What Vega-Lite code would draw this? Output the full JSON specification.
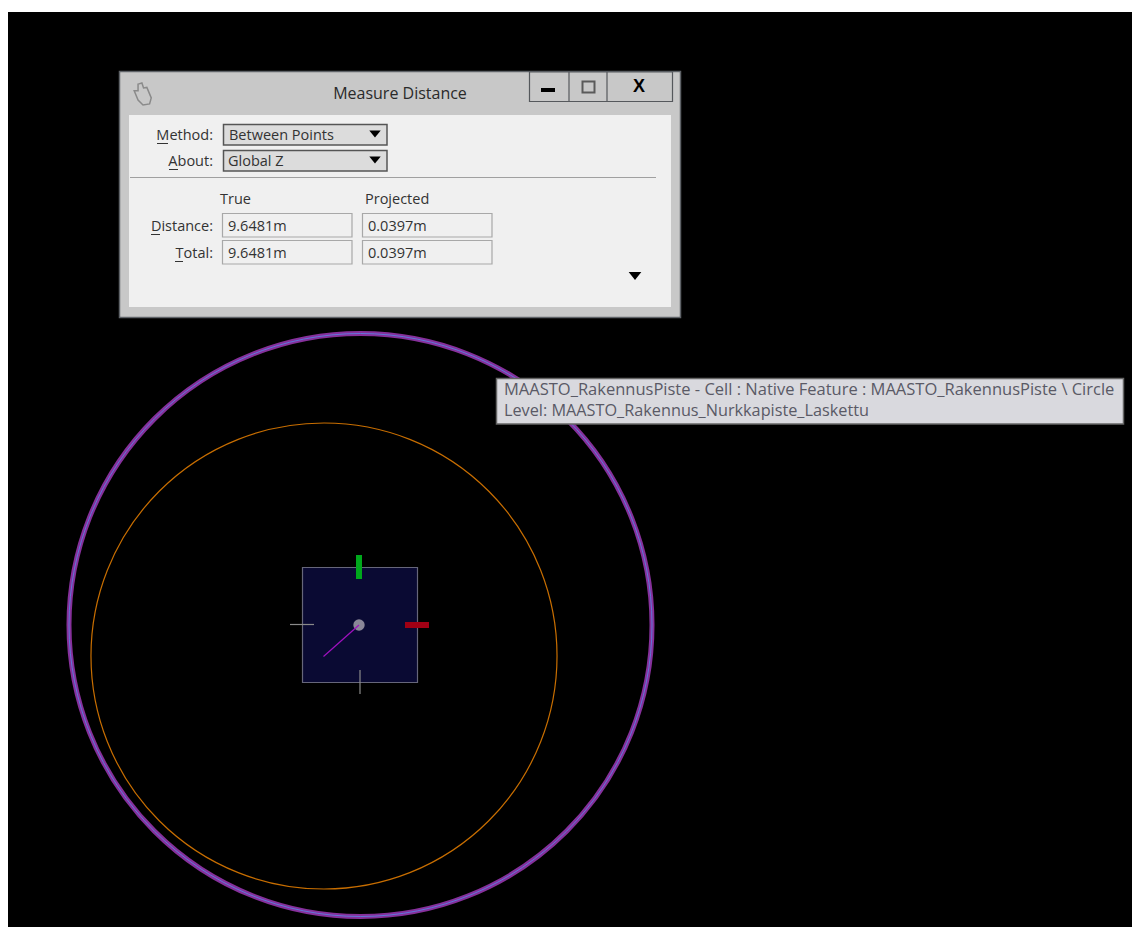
{
"$schema":"https://vega.github.io/schema/vega-lite/v6.json",
"width":1132,"height":927,"autosize":{"type":"fit","contains":"padding"},"padding":0,"background":"#ffffff",
"config":{"view":{"stroke":null}},
"encoding":{
"x":{"field":"x","type":"quantitative","scale":{"domain":[0,1132],"range":[0,1132],"nice":false,"zero":false},"axis":null},
"y":{"field":"y","type":"quantitative","scale":{"domain":[0,927],"range":[0,927],"nice":false,"zero":false},"axis":null}
},
"layer":[
{"data":{"values":[{"item":"screen","x":8,"y":12,"xe":1132,"ye":927}]},"mark":{"type":"rect","fill":"#000000"},"encoding":{"x2":{"field":"xe"},"y2":{"field":"ye"}}},
{"data":{"values":[{"item":"outer circle","x":360.5,"y":625}]},"mark":{"type":"point","shape":"circle","size":339900,"filled":false,"stroke":"#86309b","strokeWidth":5,"opacity":1}},
{"data":{"values":[{"item":"outer circle core","x":360.5,"y":625}]},"mark":{"type":"point","shape":"circle","size":339900,"filled":false,"stroke":"#5c7fe0","strokeWidth":0.9,"opacity":1}},
{"data":{"values":[{"item":"inner circle","x":324,"y":656}]},"mark":{"type":"point","shape":"circle","size":217200,"filled":false,"stroke":"#c86e00","strokeWidth":1.2,"opacity":1}},
{"data":{"values":[{"item":"cell box","x":302.5,"y":567.5,"xe":417.5,"ye":682.5}]},"mark":{"type":"rect","fill":"#0a0a33","stroke":"#66667a","strokeWidth":1.2},"encoding":{"x2":{"field":"xe"},"y2":{"field":"ye"}}},
{"data":{"values":[{"item":"y axis","x":356,"y":555,"xe":362,"ye":579}]},"mark":{"type":"rect","fill":"#00a81c"},"encoding":{"x2":{"field":"xe"},"y2":{"field":"ye"}}},
{"data":{"values":[{"item":"x axis","x":405,"y":622,"xe":429,"ye":628}]},"mark":{"type":"rect","fill":"#a00014"},"encoding":{"x2":{"field":"xe"},"y2":{"field":"ye"}}},
{"data":{"values":[{"item":"tick left","x":290,"y":624.5,"xe":314,"ye":624.5},{"item":"tick bottom","x":360,"y":670,"xe":360,"ye":694}]},"mark":{"type":"rule","stroke":"#8a8a8a","strokeWidth":1.2},"encoding":{"x2":{"field":"xe"},"y2":{"field":"ye"}}},
{"data":{"values":[{"item":"centre","x":359,"y":625}]},"mark":{"type":"point","shape":"circle","size":130,"filled":true,"fill":"#8a8798","stroke":null,"opacity":1}},
{"data":{"values":[{"item":"pointer","x":359,"y":625,"xe":323.5,"ye":656.5}]},"mark":{"type":"rule","stroke":"#a010c0","strokeWidth":1.2},"encoding":{"x2":{"field":"xe"},"y2":{"field":"ye"}}},

{"data":{"values":[{"item":"dialog","x":119.5,"y":71.5,"xe":680.5,"ye":317.5}]},"mark":{"type":"rect","fill":"#c8c8c8","stroke":"#5f6368","strokeWidth":1.5},"encoding":{"x2":{"field":"xe"},"y2":{"field":"ye"}}},
{"data":{"values":[{"item":"panel","x":129,"y":115,"xe":671,"ye":307}]},"mark":{"type":"rect","fill":"#f0f0f0"},"encoding":{"x2":{"field":"xe"},"y2":{"field":"ye"}}},
{"data":{"values":[{"item":"buttons","x":529.5,"y":72,"xe":672.5,"ye":101.5}]},"mark":{"type":"rect","fill":"#c8c8c8","stroke":"#55585c","strokeWidth":1.2},"encoding":{"x2":{"field":"xe"},"y2":{"field":"ye"}}},
{"data":{"values":[{"item":"sep1","x":569,"y":72,"xe":569,"ye":101},{"item":"sep2","x":607,"y":72,"xe":607,"ye":101}]},"mark":{"type":"rule","stroke":"#55585c","strokeWidth":1.2},"encoding":{"x2":{"field":"xe"},"y2":{"field":"ye"}}},
{"data":{"values":[{"item":"minimise","x":541,"y":88,"xe":555,"ye":92}]},"mark":{"type":"rect","fill":"#000000"},"encoding":{"x2":{"field":"xe"},"y2":{"field":"ye"}}},
{"data":{"values":[{"item":"maximise","x":582.5,"y":81.5,"xe":594.5,"ye":92.5}]},"mark":{"type":"rect","fill":"#c8c8c8","stroke":"#5a5a5a","strokeWidth":2},"encoding":{"x2":{"field":"xe"},"y2":{"field":"ye"}}},
{"data":{"values":[{"item":"hand","x":143,"y":94}]},"mark":{"type":"point","shape":"M-0.45,-0.9L-0.1,-1L0.05,-0.55L0.35,-0.6L0.75,0.35L0.6,0.9L0,1L-0.45,0.55L-0.8,-0.3L-0.45,-0.3Z","size":484,"filled":true,"fill":"#c8c8c8","stroke":"#8a8a8a","strokeWidth":1.5,"opacity":1}},
{"data":{"values":[{"item":"combo1","x":223.5,"y":124.5,"xe":387,"ye":145},{"item":"combo2","x":223.5,"y":150.5,"xe":387,"ye":171}]},"mark":{"type":"rect","fill":"#dcdcdc","stroke":"#555555","strokeWidth":1.5},"encoding":{"x2":{"field":"xe"},"y2":{"field":"ye"}}},
{"data":{"values":[{"item":"field1","x":222.5,"y":213.5,"xe":352,"ye":237},{"item":"field2","x":362.5,"y":213.5,"xe":492,"ye":237},{"item":"field3","x":222.5,"y":240.5,"xe":352,"ye":264},{"item":"field4","x":362.5,"y":240.5,"xe":492,"ye":264}]},"mark":{"type":"rect","fill":"#f0f0f0","stroke":"#a8a8a8","strokeWidth":1.2},"encoding":{"x2":{"field":"xe"},"y2":{"field":"ye"}}},
{"data":{"values":[{"item":"divider","x":130,"y":177.5,"xe":656,"ye":177.5}]},"mark":{"type":"rule","stroke":"#a0a0a0","strokeWidth":1.2},"encoding":{"x2":{"field":"xe"},"y2":{"field":"ye"}}},
{"data":{"values":[{"item":"u1","x":157,"y":143.5,"xe":168,"ye":143.5},{"item":"u2","x":169,"y":169.5,"xe":178,"ye":169.5},{"item":"u3","x":151,"y":234.5,"xe":160,"ye":234.5},{"item":"u4","x":175,"y":261.5,"xe":183,"ye":261.5}]},"mark":{"type":"rule","stroke":"#333333","strokeWidth":1},"encoding":{"x2":{"field":"xe"},"y2":{"field":"ye"}}},
{"data":{"values":[{"item":"combo arrow 1","x":375,"y":134},{"item":"combo arrow 2","x":375,"y":160}]},"mark":{"type":"point","shape":"M-1,-0.6L1,-0.6L0,0.6Z","size":130,"filled":true,"fill":"#000000","stroke":null,"opacity":1}},
{"data":{"values":[{"item":"expand arrow","x":635,"y":276}]},"mark":{"type":"point","shape":"M-1,-0.65L1,-0.65L0,0.65Z","size":160,"filled":true,"fill":"#000000","stroke":null,"opacity":1}},
{"data":{"values":[{"label":"Measure Distance","x":400,"y":93.5}]},"mark":{"type":"text","font":"Open Sans","fontSize":16,"fill":"#2a2a2a","align":"center","baseline":"middle"},"encoding":{"text":{"field":"label"}}},
{"data":{"values":[{"label":"X","x":639,"y":87}]},"mark":{"type":"text","font":"Liberation Sans","fontWeight":"bold","fontSize":18,"fill":"#000000","align":"center","baseline":"middle"},"encoding":{"text":{"field":"label"}}},
{"data":{"values":[{"label":"Method:","x":213,"y":135.7},{"label":"About:","x":213,"y":161.7},{"label":"Distance:","x":213,"y":226.7},{"label":"Total:","x":213,"y":253.7}]},"mark":{"type":"text","font":"Open Sans","fontSize":14.5,"fill":"#333333","align":"right","baseline":"middle"},"encoding":{"text":{"field":"label"}}},
{"data":{"values":[{"label":"Between Points","x":229,"y":135.7},{"label":"Global Z","x":228,"y":161.7},{"label":"True","x":220,"y":200},{"label":"Projected","x":365,"y":200},{"label":"9.6481m","x":228,"y":226.7},{"label":"0.0397m","x":368,"y":226.7},{"label":"9.6481m","x":228,"y":253.7},{"label":"0.0397m","x":368,"y":253.7}]},"mark":{"type":"text","font":"Open Sans","fontSize":14.5,"fill":"#333333","align":"left","baseline":"middle"},"encoding":{"text":{"field":"label"}}},
{"data":{"values":[{"item":"tooltip","x":496.5,"y":378.5,"xe":1123.5,"ye":424}]},"mark":{"type":"rect","fill":"#d9d9de","stroke":"#666666","strokeWidth":1.5},"encoding":{"x2":{"field":"xe"},"y2":{"field":"ye"}}},
{"data":{"values":[{"label":"MAASTO_RakennusPiste - Cell : Native Feature : MAASTO_RakennusPiste \\ Circle","x":504,"y":389.5}]},"mark":{"type":"text","font":"Open Sans","fontSize":16.5,"fill":"#5a5a66","align":"left","baseline":"middle"},"encoding":{"text":{"field":"label"}}},
{"data":{"values":[{"label":"Level: MAASTO_Rakennus_Nurkkapiste_Laskettu","x":504,"y":411}]},"mark":{"type":"text","font":"Open Sans","fontSize":16.25,"fill":"#5a5a66","align":"left","baseline":"middle"},"encoding":{"text":{"field":"label"}}}
]
}
